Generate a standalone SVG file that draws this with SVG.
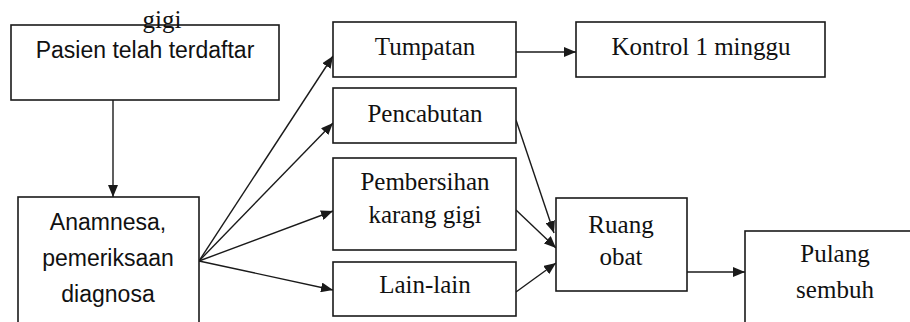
<svg xmlns="http://www.w3.org/2000/svg" width="910" height="322" viewBox="0 0 910 322">
<defs>
<style>
.box{fill:#fff;stroke:#1a1a1a;stroke-width:1.6}
.serif{font-family:"Liberation Serif","Times New Roman",serif;font-size:25px;fill:#111;text-anchor:middle}
.sans{font-family:"Liberation Sans",Arial,sans-serif;font-size:23px;fill:#111;text-anchor:middle}
.conn{stroke:#1a1a1a;stroke-width:1.4;fill:none;marker-end:url(#arr)}
</style>
<marker id="arr" markerUnits="userSpaceOnUse" markerWidth="12" markerHeight="10" refX="12" refY="5" orient="auto">
<path d="M0,0 L12,5 L0,10 z" fill="#1a1a1a"/>
</marker>
</defs>
<rect width="910" height="322" fill="#fff"/>
<g id="connectors">
<line class="conn" x1="113" y1="100" x2="113" y2="197"/>
<line class="conn" x1="199" y1="261" x2="333" y2="56"/>
<line class="conn" x1="199" y1="261" x2="333" y2="123"/>
<line class="conn" x1="199" y1="261" x2="333" y2="211"/>
<line class="conn" x1="199" y1="261" x2="333" y2="290"/>
<line class="conn" x1="516" y1="52" x2="576" y2="52"/>
<line class="conn" x1="516" y1="120" x2="554" y2="233"/>
<line class="conn" x1="516" y1="210" x2="556" y2="248"/>
<line class="conn" x1="516" y1="292" x2="556" y2="263"/>
<line class="conn" x1="687" y1="272" x2="745" y2="272"/>
</g>
<g id="pasien">
<rect class="box" x="11" y="25" width="268" height="75"/>
<text class="sans" x="145" y="58">Pasien telah terdaftar</text>
</g>
<g id="gigi-label">
<text class="serif" x="162" y="28">gigi</text>
</g>
<g id="anamnesa">
<rect class="box" x="18" y="197" width="181" height="140"/>
<text class="sans" x="108" y="230">Anamnesa,</text>
<text class="sans" x="108" y="266">pemeriksaan</text>
<text class="sans" x="108" y="302">diagnosa</text>
</g>
<g id="tumpatan">
<rect class="box" x="333" y="22" width="183" height="55"/>
<text class="serif" x="425" y="55">Tumpatan</text>
</g>
<g id="kontrol">
<rect class="box" x="576" y="22" width="249" height="55"/>
<text class="serif" x="701" y="55">Kontrol 1 minggu</text>
</g>
<g id="pencabutan">
<rect class="box" x="333" y="88" width="183" height="55"/>
<text class="serif" x="425" y="122">Pencabutan</text>
</g>
<g id="pembersihan">
<rect class="box" x="333" y="158" width="183" height="92"/>
<text class="serif" x="425" y="190">Pembersihan</text>
<text class="serif" x="425" y="223">karang gigi</text>
</g>
<g id="lainlain">
<rect class="box" x="333" y="262" width="183" height="54"/>
<text class="serif" x="425" y="293">Lain-lain</text>
</g>
<g id="ruangobat">
<rect class="box" x="556" y="198" width="131" height="93"/>
<text class="serif" x="621" y="233">Ruang</text>
<text class="serif" x="621" y="265">obat</text>
</g>
<g id="pulang">
<rect class="box" x="745" y="231" width="200" height="120"/>
<text class="serif" x="835" y="262">Pulang</text>
<text class="serif" x="835" y="298">sembuh</text>
</g>
</svg>
